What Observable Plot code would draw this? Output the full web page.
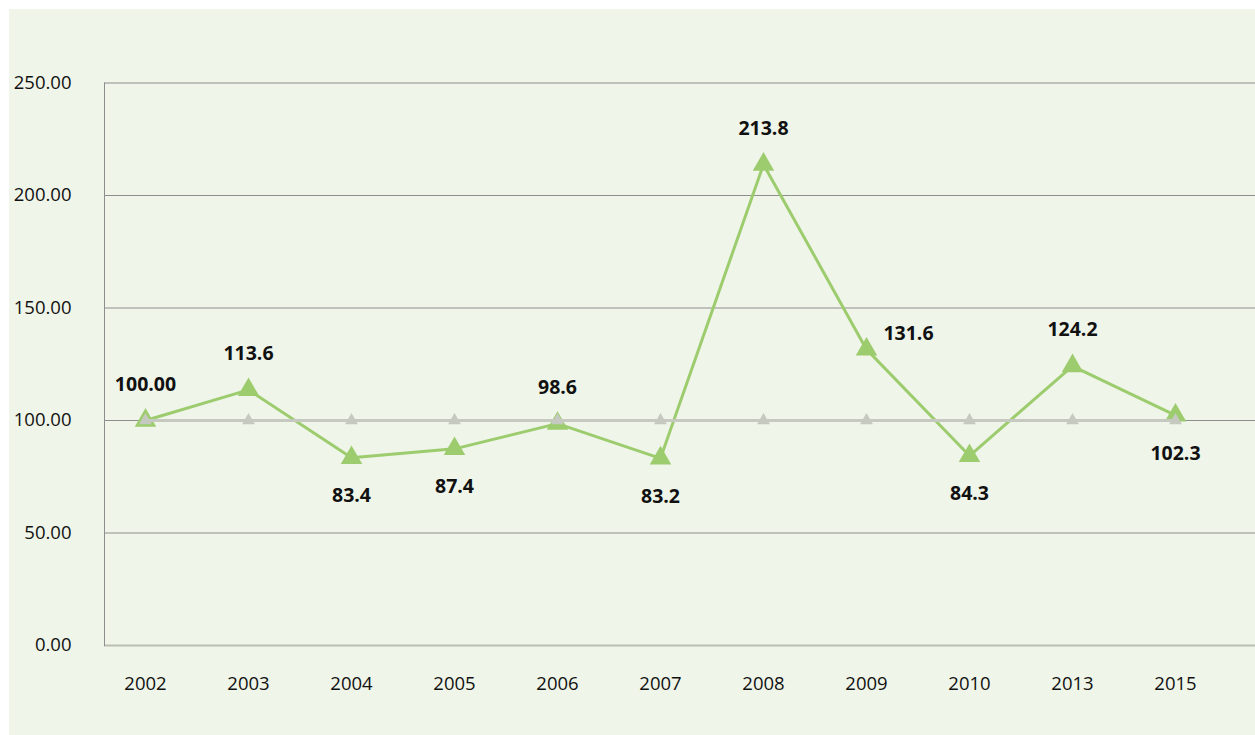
<!DOCTYPE html>
<html><head><meta charset="utf-8">
<script src="https://cdn.jsdelivr.net/npm/d3@7"></script>
<script src="https://cdn.jsdelivr.net/npm/@observablehq/plot@0.6"></script>
<style>
html,body{margin:0;padding:0;background:#fff;}
#wrap{padding:9px 0 0 9px;width:1246px;height:726px;}
#wrap svg{background:#eff5e8;display:block;}
</style></head>
<body><div id="wrap"></div>
<script>
const years = ["2002","2003","2004","2005","2006","2007","2008","2009","2010","2013","2015"];
const values = [100.0, 113.6, 83.4, 87.4, 98.6, 83.2, 213.8, 131.6, 84.3, 124.2, 102.3];
const valueLabels = ["100.00","113.6","83.4","87.4","98.6","83.2","213.8","131.6","84.3","124.2","102.3"];
const placement = ["above","above","below","below","above","below","above","right","below","above","below"];
const baseline = [100,100,100,100,100,100,100,100,100,100,100];
const yTicks = [0, 50, 100, 150, 200, 250];

const green = years.map((y, i) => ({year: y, v: values[i], label: valueLabels[i], place: placement[i]}));
const gray = years.map((y, i) => ({year: y, v: baseline[i]}));

const font = "'Open Sans', 'Noto Sans', sans-serif";
const chart = Plot.plot({
  width: 1246, height: 726,
  marginLeft: 95, marginRight: 39, marginTop: 73.5, marginBottom: 90,
  style: {fontFamily: font, fontSize: "18.5px", color: "#111", background: "#eff5e8"},
  x: {type: "point", domain: years, padding: 0.3876, label: null},
  y: {domain: [0, 250], label: null},
  marks: [
    Plot.ruleY(yTicks.filter(d => d > 0), {stroke: "#8e8e8e", strokeWidth: 1, insetRight: -39}),
    Plot.ruleY([0], {stroke: "#b9beb2", strokeWidth: 2, insetRight: -39}),
    Plot.frame({anchor: "left", stroke: "#8e8e8e", strokeWidth: 1}),
    Plot.axisY({ticks: yTicks, tickFormat: d => d.toFixed(2), tickSize: 0, tickPadding: 33, fontSize: 18.5, label: null}),
    Plot.axisX({tickSize: 0, tickPadding: 31, fontSize: 18.5, label: null}),
    Plot.line(green, {x: "year", y: "v", stroke: "#9dcc6f", strokeWidth: 3}),
    Plot.dot(green, {x: "year", y: "v", symbol: "triangle", r: 8, fill: "#9dcc6f", stroke: "none"}),
    Plot.line(gray, {x: "year", y: "v", stroke: "#c6c9c0", strokeWidth: 3}),
    Plot.dot(gray, {x: "year", y: "v", symbol: "triangle", r: 4.8, fill: "#c6c9c0", stroke: "none"}),
    Plot.text(green.filter(d => d.place === "above"), {x: "year", y: "v", text: "label", dy: -36, fontWeight: "bold", fontSize: 19.5, fill: "#111"}),
    Plot.text(green.filter(d => d.place === "below"), {x: "year", y: "v", text: "label", dy: 38, fontWeight: "bold", fontSize: 19.5, fill: "#111"}),
    Plot.text(green.filter(d => d.place === "right"), {x: "year", y: "v", text: "label", dx: 42, dy: -16, fontWeight: "bold", fontSize: 19.5, fill: "#111"})
  ]
});
document.getElementById("wrap").appendChild(chart);
</script></body></html>
